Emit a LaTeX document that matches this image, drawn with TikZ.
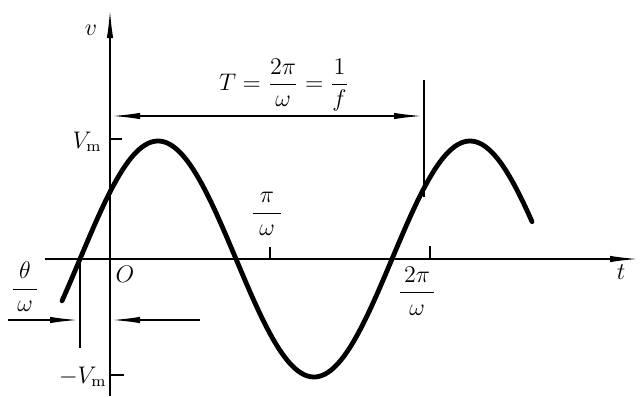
\documentclass[tikz,border=0pt]{standalone}
\usepackage{amsmath}
\usetikzlibrary{arrows.meta}
\begin{document}
\begin{tikzpicture}[x=0.5pt,y=-0.5pt,
  font=\fontsize{12}{14}\selectfont,
  axisline/.style={line width=1pt,-{Latex[length=15pt,width=3.2pt]}},
  ticksty/.style={line width=1pt},
  thinline/.style={line width=1pt},
  dimarrow/.style={line width=1pt,-{Latex[length=15pt,width=3.2pt]}},
  dimboth/.style={line width=1pt,{Latex[length=15pt,width=3.2pt]}-{Latex[length=15pt,width=3.2pt]}},
  wave/.style={line width=2.4pt,line cap=round,line join=round},
  lbl/.style={inner sep=0pt}]
\useasboundingbox (0,0) rectangle (641,396);
% axes
\coordinate (O) at (110,259);
\coordinate (vtop) at (110,8);
\coordinate (vbot) at (110,396);
\coordinate (tleft) at (45,259);
\coordinate (tright) at (640,259);
\draw[axisline] (vbot) -- (vtop);
\draw[axisline] (tleft) -- (tright);
% ticks
\coordinate (vm) at (110,139); \coordinate (vmr) at (122,139);
\coordinate (nvm) at (110,375); \coordinate (nvmr) at (124,375);
\coordinate (p1) at (270,259); \coordinate (p1t) at (270,247);
\coordinate (p2) at (430,259); \coordinate (p2t) at (430,246);
\draw[ticksty] (vm) -- (vmr);
\draw[ticksty] (nvm) -- (nvmr);
\draw[ticksty] (p1) -- (p1t);
\draw[ticksty] (p2) -- (p2t);
% sine wave
\draw[wave] plot[domain=62:532,samples=160,smooth] (\x,{259-118*sin((\x-80)*1.1538462)});
% period dimension
\coordinate (Ta) at (110,116);
\coordinate (Tb) at (424,116);
\coordinate (Ttop) at (424,80);
\coordinate (Tbot) at (424,197);
\draw[thinline] (Ttop) -- (Tbot);
\draw[dimboth] (Ta) -- (Tb);
% phase dimension
\coordinate (z) at (80,259);
\coordinate (zb) at (80,348);
\coordinate (la) at (8,320);
\coordinate (lb) at (80,320);
\coordinate (ra) at (200,320);
\coordinate (rb) at (110,320);
\draw[thinline] (z) -- (zb);
\draw[dimarrow] (la) -- (lb);
\draw[dimarrow] (ra) -- (rb);
% labels
\node[lbl] (vlab) at (91,30) {$v$};
\node[lbl,anchor=base east] (Vm) at (102,148) {$V_{\mathrm m}$};
\node[lbl,anchor=base east] (nVm) at (107,383) {$-V_{\mathrm m}$};
\node[lbl] (Olab) at (125,274) {$O$};
\node[lbl] (tlab) at (621,272) {$t$};
\node[lbl] (pilab) at (267,214) {$\dfrac{\;\pi\;}{\;\omega\;}$};
\node[lbl] (twopilab) at (417,291) {$\dfrac{\,2\pi\,}{\,\omega\,}$};
\node[lbl] (thlab) at (25,287) {$\dfrac{\,\theta\,}{\,\omega\,}$};
\node[lbl] (Tlab) at (284,85) {$T=\dfrac{2\pi}{\omega}=\dfrac{1}{f}$};
\end{tikzpicture}
\end{document}
